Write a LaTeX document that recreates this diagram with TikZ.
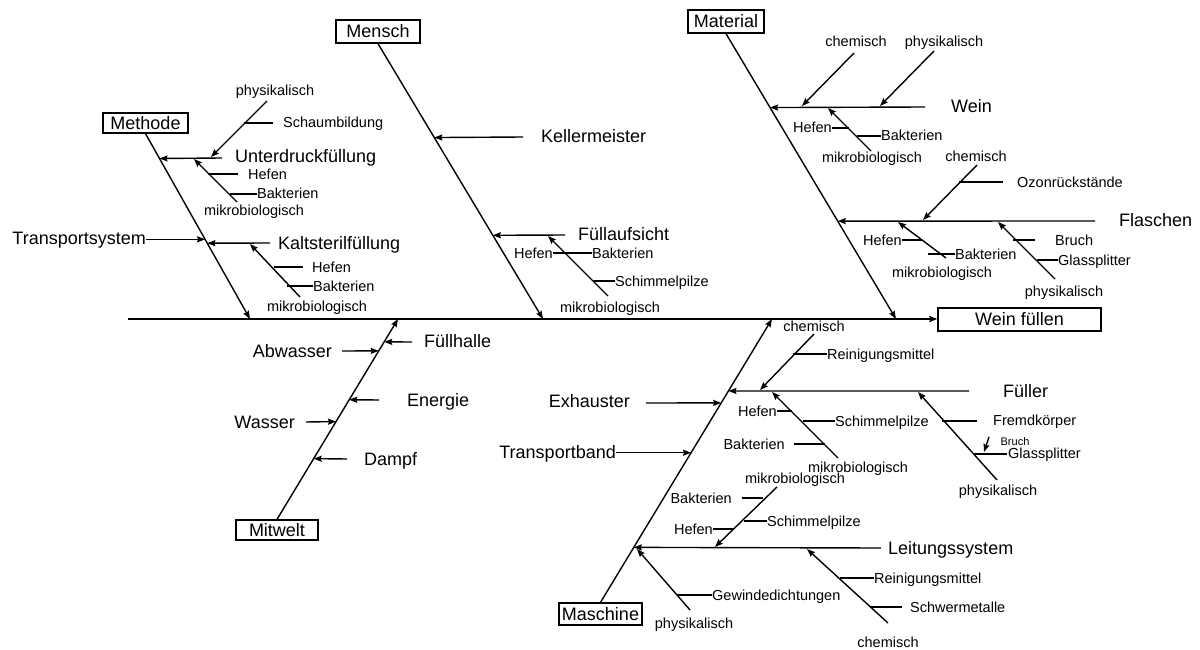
\documentclass[tikz,border=0pt]{standalone}
\usepackage{fontspec}
\setmainfont{Liberation Sans}
\usetikzlibrary{arrows.meta,positioning}
\newcommand\bigsize{\fontsize{18}{20}\selectfont}
\newcommand\smlsize{\fontsize{14.5}{16}\selectfont}
\newcommand\tnysize{\fontsize{11}{12}\selectfont}

\begin{document}
\begin{tikzpicture}[x=1pt,y=-1pt,
  bone/.style={line width=1.4pt},
  arr/.style={bone,-{Stealth[length=8pt,width=6pt,inset=1pt]}},
  cause/.style={draw,line width=1.3pt,inner sep=0pt,font=\bigsize},
  big/.style={inner sep=0pt,font=\bigsize,text height=13pt,text depth=1pt},
  sml/.style={inner sep=0pt,font=\smlsize,text height=10pt,text depth=0pt},
  tny/.style={inner sep=0pt,font=\tnysize,text height=8pt,text depth=0pt}
                        ]
\useasboundingbox (0,0) rectangle (1200,650);
%
\node (eff) [cause,minimum width=163pt,minimum height=23pt] at (1019.5,319.5) {Wein füllen};
\coordinate (sp) at (128,319);
\draw[arr,line width=1.6pt] (sp) -- (sp -| eff.west);
%
\node (me) [cause,minimum width=85pt,minimum height=20pt] at (145.5,123) {Methode};
\node (mn) [cause,minimum width=84pt,minimum height=23pt] at (378,31.5) {Mensch};
\node (ma) [cause,minimum width=76pt,minimum height=23pt] at (726,21.5) {Material};
\node (mw) [cause,minimum width=82pt,minimum height=20pt] at (277,530) {Mitwelt};
\node (ms) [cause,minimum width=83pt,minimum height=22pt] at (600.5,614) {Maschine};
\foreach \n/\x in {meT/250, mnT/543, maT/896, mwT/398, msT/772}
    \coordinate (\n) at (\x,319);
\draw[arr] (me.south) -- (meT);
\draw[arr] (mn.south) -- (mnT);
\draw[arr] (ma.south) -- (maT);
\draw[arr] (mw.north) -- (mwT);
\draw[arr] (ms.north) -- (msT);
\path (me.south) -- (meT) coordinate[pos=.134] (meU) coordinate[pos=.591] (meK)
                          coordinate[pos=.570] (meS);
\path (mn.south) -- (mnT) coordinate[pos=.341] (mnK) coordinate[pos=.696] (mnF);
\path (ma.south) -- (maT) coordinate[pos=.259] (maW) coordinate[pos=.657] (maF);
\path (mw.north) -- (mwT) coordinate[pos=.886] (mwF) coordinate[pos=.841] (mwA)
      coordinate[pos=.597] (mwE) coordinate[pos=.488] (mwW) coordinate[pos=.303] (mwD);
\path (ms.north) -- (msT) coordinate[pos=.704] (msE) coordinate[pos=.528] (msB)
      coordinate[pos=.746] (msF) coordinate[pos=.194] (msL);
%
% Methode
\foreach \n/\x/\y in {u0/222/158, upA/267/101, upB/211/157, usA/244/123, usB/273/123,
    umA/237/202, umB/194/159, uhA/208/174, uhB/238/174, ubA/230/194,
    k0/270/243, kmA/300/297, kmB/250/244, khA/274/267, khB/303/267, kbA/287/286}
    \coordinate (\n) at (\x,\y);
\node (phy1) [sml] at (275,91) {physikalisch};
\node (sch1) [sml,anchor=west] at (283,123) {Schaumbildung};
\node (unt)  [big,anchor=west] at (235,157) {Unterdruckfüllung};
\node (hef1) [sml,anchor=west] at (248,174) {Hefen};
\node (bak1) [sml,anchor=west] at (257,194) {Bakterien};
\node (mik1) [sml] at (254,210) {mikrobiologisch};
\node (kal)  [big,anchor=west] at (278,243) {Kaltsterilfüllung};
\node (hef2) [sml,anchor=west] at (312,267) {Hefen};
\node (bak2) [sml,anchor=west] at (313,286) {Bakterien};
\node (mik2) [sml] at (317,306) {mikrobiologisch};
\node (tra)  [big,anchor=east] at (146,238) {Transportsystem};
\draw[arr]  (u0) -- (meU);
\draw[arr]  (upA) -- (upB);
\draw[bone] (usA) -- (usB);
\draw[arr]  (umA) -- (umB);
\draw[bone] (uhA) -- (uhB);
\draw[bone] (ubA) -- (bak1.west);
\draw[arr]  (k0) -- (meK);
\draw[arr]  (kmA) -- (kmB);
\draw[bone] (khA) -- (khB);
\draw[bone] (kbA) -- (bak2.west);
\draw[arr]  (tra.east |- meS) -- (meS);
%
% Mensch
\foreach \n/\x/\y in {ke0/523/137, fa0/565/235, fmA/608/296, fmB/548/236, fsA/593/281}
    \coordinate (\n) at (\x,\y);
\node (kel)  [big,anchor=west] at (541,137) {Kellermeister};
\node (fua)  [big,anchor=west] at (578,234) {Füllaufsicht};
\node (hef3) [sml,anchor=east] at (553,253) {Hefen};
\node (bak3) [sml,anchor=west] at (592,253) {Bakterien};
\node (sch3) [sml,anchor=west] at (615,281) {Schimmelpilze};
\node (mik3) [sml] at (610,307) {mikrobiologisch};
\draw[arr]  (ke0) -- (mnK);
\draw[arr]  (fa0) -- (mnF);
\draw[arr]  (fmA) -- (fmB);
\draw[bone] (hef3.east) -- (bak3.west);
\draw[bone] (fsA) -- (sch3.west);
%
% Material
\foreach \n/\x/\y in {we0/925/107, wcA/854/53, wcB/802/106, wpA/934/51, wpB/880/106,
    wmA/871/151, wmB/828/108, whB/849/128, wbA/857/136,
    fl0/1095/221, fcA/977/165, fcB/923/220, foA/959/182, foB/1003/182,
    fmA2/946/258, fmB2/898/222, fhB/922/240, fbA/928/254,
    fpA/1055/279, fpB/998/222, frA/1013/240, frB/1035/240, fgA/1037/260}
    \coordinate (\n) at (\x,\y);
\node (chem1) [sml] at (856,42) {chemisch};
\node (phy2)  [sml] at (944,42) {physikalisch};
\node (wein)  [big,anchor=west] at (951,107) {Wein};
\node (hef4)  [sml,anchor=east] at (832,128) {Hefen};
\node (bak4)  [sml,anchor=west] at (881,136) {Bakterien};
\node (mik4)  [sml] at (872,158) {mikrobiologisch};
\node (chem2) [sml] at (976,156) {chemisch};
\node (ozo)   [sml,anchor=west] at (1017,182) {Ozonrückstände};
\node (fla)   [big,anchor=west] at (1119,220) {Flaschen};
\node (hef5)  [sml,anchor=east] at (902,240) {Hefen};
\node (bak5)  [sml,anchor=west] at (955,254) {Bakterien};
\node (mik5)  [sml] at (942,272) {mikrobiologisch};
\node (bru1)  [sml,anchor=west] at (1055,240) {Bruch};
\node (gla1)  [sml,anchor=west] at (1058,260) {Glassplitter};
\node (phy3)  [sml] at (1064,291) {physikalisch};
\draw[arr]  (we0) -- (maW);
\draw[arr]  (wcA) -- (wcB);
\draw[arr]  (wpA) -- (wpB);
\draw[arr]  (wmA) -- (wmB);
\draw[bone] (hef4.east) -- (whB);
\draw[bone] (wbA) -- (bak4.west);
\draw[arr]  (fl0) -- (maF);
\draw[arr]  (fcA) -- (fcB);
\draw[bone] (foA) -- (foB);
\draw[arr]  (fmA2) -- (fmB2);
\draw[bone] (hef5.east) -- (fhB);
\draw[bone] (fbA) -- (bak5.west);
\draw[arr]  (fpA) -- (fpB);
\draw[bone] (frA) -- (frB);
\draw[bone] (fgA) -- (gla1.west);
%
% Mitwelt
\foreach \n/\x/\y in {fh0/412/342, ab0/342/351, en0/379/400, wa0/306/422, da0/347/459}
    \coordinate (\n) at (\x,\y);
\node (fuh) [big,anchor=west] at (424,341) {Füllhalle};
\node (abw) [big,anchor=east] at (332,351) {Abwasser};
\node (ene) [big,anchor=west] at (407,400) {Energie};
\node (was) [big,anchor=east] at (295,422) {Wasser};
\node (dam) [big,anchor=west] at (364,459) {Dampf};
\draw[arr] (fh0) -- (mwF);
\draw[arr] (ab0) -- (mwA);
\draw[arr] (en0) -- (mwE);
\draw[arr] (wa0) -- (mwW);
\draw[arr] (da0) -- (mwD);
%
% Maschine
\foreach \n/\x/\y in {ex0/646/403, fu0/969/391, fcA3/814/334, fcB3/760/390, frA3/793/354,
    fmA3/838/458, fmB3/772/392, fhB3/792/411, fsA3/803/421, fbA3/794/444, fbB3/825/444,
    fpA3/997/480, fpB3/918/392, fkA/942/421, fkB/977/421, fgA3/974/454, fgB3/1007/454,
    bkA/989/437, bkB/984/452,
    le0/881/548, lmA/777/487, lmB/715/547, lbA/742/498, lbB/763/498, lhB/733/529,
    lsA/744/521, lpA/690/610, lpB/637/549, lgA/677/595, lcA/888/623, lcB/807/549,
    lrA/840/578, lwA/870/607, lwB/902/607}
    \coordinate (\n) at (\x,\y);
\node (exh)   [big,anchor=east] at (630,401) {Exhauster};
\node (trb)   [big,anchor=east] at (616,452) {Transportband};
\node (chem3) [sml] at (814,326) {chemisch};
\node (rei1)  [sml,anchor=west] at (827,354) {Reinigungsmittel};
\node (ful)   [big,anchor=west] at (1003,391) {Füller};
\node (hef6)  [sml,anchor=east] at (777,411) {Hefen};
\node (sch6)  [sml,anchor=west] at (835,421) {Schimmelpilze};
\node (bak6)  [sml,anchor=east] at (785,444) {Bakterien};
\node (mik6)  [sml] at (858,467) {mikrobiologisch};
\node (fre)   [sml,anchor=west] at (993,420) {Fremdkörper};
\node (bru2)  [tny] at (1015,441) {Bruch};
\node (gla2)  [sml,anchor=west] at (1008,453) {Glassplitter};
\node (phy4)  [sml] at (998,490) {physikalisch};
\node (mik7)  [sml] at (795,478) {mikrobiologisch};
\node (bak7)  [sml,anchor=east] at (732,498) {Bakterien};
\node (hef7)  [sml,anchor=east] at (713,529) {Hefen};
\node (sch7)  [sml,anchor=west] at (767,521) {Schimmelpilze};
\node (lei)   [big,anchor=west] at (888,548) {Leitungssystem};
\node (gew)   [sml,anchor=west] at (712,595) {Gewindedichtungen};
\node (phy5)  [sml] at (694,623) {physikalisch};
\node (rei2)  [sml,anchor=west] at (874,578) {Reinigungsmittel};
\node (swm)   [sml,anchor=west] at (910,607) {Schwermetalle};
\node (chem4) [sml] at (888,642) {chemisch};
\draw[arr]  (ex0) -- (msE);
\draw[arr]  (trb.east |- msB) -- (msB);
\draw[arr]  (fu0) -- (msF);
\draw[arr]  (fcA3) -- (fcB3);
\draw[bone] (frA3) -- (rei1.west);
\draw[arr]  (fmA3) -- (fmB3);
\draw[bone] (hef6.east) -- (fhB3);
\draw[bone] (fsA3) -- (sch6.west);
\draw[bone] (fbA3) -- (fbB3);
\draw[arr]  (fpA3) -- (fpB3);
\draw[bone] (fkA) -- (fkB);
\draw[bone] (fgA3) -- (fgB3);
\draw[arr]  (bkA) -- (bkB);
\draw[arr]  (le0) -- (msL);
\draw[arr]  (lmA) -- (lmB);
\draw[bone] (lbA) -- (lbB);
\draw[bone] (hef7.east) -- (lhB);
\draw[bone] (lsA) -- (sch7.west);
\draw[arr]  (lpA) -- (lpB);
\draw[bone] (lgA) -- (gew.west);
\draw[arr]  (lcA) -- (lcB);
\draw[bone] (lrA) -- (rei2.west);
\draw[bone] (lwA) -- (lwB);
\end{tikzpicture}
\end{document}
